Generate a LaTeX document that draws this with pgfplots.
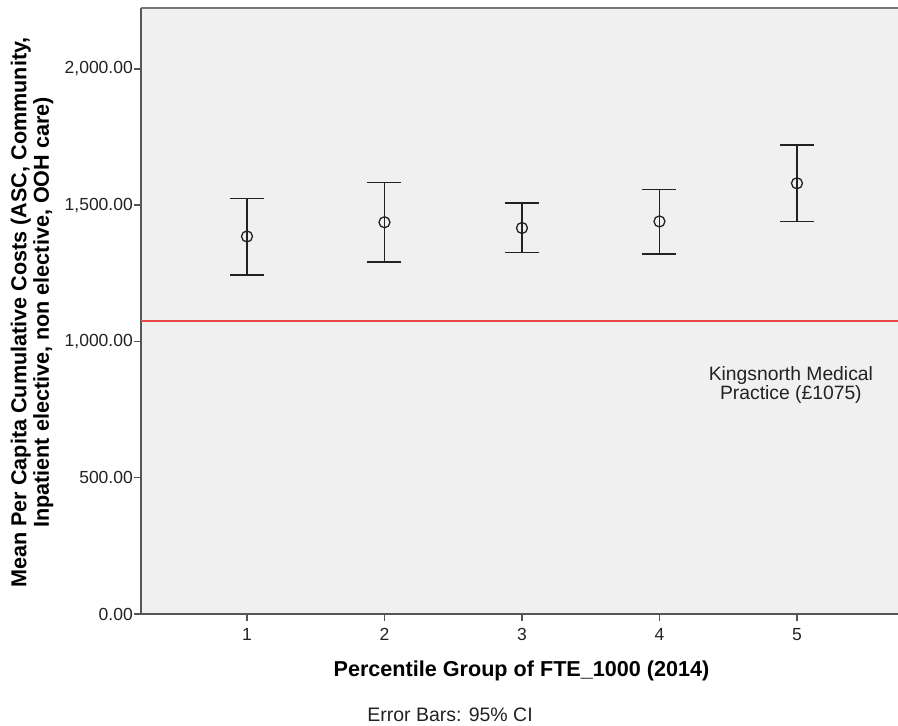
\documentclass[border=0pt]{standalone}
\usepackage{fontspec}
\setmainfont{Liberation Sans}
\usepackage{pgfplots}
\pgfplotsset{compat=1.18}
\definecolor{bg}{HTML}{F0F0F0}
\definecolor{axgray}{HTML}{555555}
\definecolor{refred}{HTML}{E8474C}
\definecolor{txt}{HTML}{222222}
\begin{document}
\begin{tikzpicture}
\path[use as bounding box] (-141pt,-112pt) rectangle (757pt,614pt);
\begin{axis}[
  at={(0pt,0pt)}, anchor=south west, scale only axis,
  width=757pt, height=606pt,
  xmin=0.229, xmax=5.735, ymin=0, ymax=2223,
  axis x line*=bottom, axis y line*=left,
  axis line style={axgray, line width=1.8pt},
  axis background/.style={fill=bg},
  xtick={1,2,3,4,5}, ytick={0,500,1000,1500,2000},
  tick align=outside, major tick length=7pt,
  tick style={axgray, line width=1.5pt},
  /pgf/number format/assume math mode=true,
  ticklabel style={font=\fontsize{17.5}{19}\selectfont, text=txt},
  yticklabel style={inner sep=1pt, /pgf/number format/.cd, fixed, fixed zerofill, precision=2, 1000 sep={,}},
  xticklabel style={yshift=-4pt},
  clip=false,
]
\addplot[refred, line width=1.6pt] coordinates {(0.229,1075) (5.735,1075)};
\addplot[only marks, mark=o, mark size=5.5pt, txt,
  mark options={line width=1.3pt, fill=bg},
  error bars/.cd, y dir=both, y explicit,
  error bar style={line width=1.5pt, txt},
  error mark options={rotate=90, mark size=17pt, line width=1.5pt, txt}]
  table[x=x, y=y, y error plus=ep, y error minus=em] {
x y ep em
1 1385 139 141
2 1437 145 146
3 1416 92 89
4 1440 117 119
5 1580 141 140
};
\draw[axgray!80, line width=1.8pt] (rel axis cs:0,1) -- (rel axis cs:1,1);
\node[align=center, text=txt, font=\fontsize{19.3}{19.5}\selectfont] at (axis cs:4.956,840) {Kingsnorth Medical\\Practice (£1075)};
\end{axis}
\node[font=\bfseries\fontsize{21.6}{22.5}\selectfont, text=black] at (380.5pt,-57pt) {Percentile Group of FTE\_1000 (2014)};
\node[font=\fontsize{19.5}{20}\selectfont, text=txt] at (309pt,-101pt) {Error Bars: 95\% CI};
\node[rotate=90, align=center, font=\bfseries\fontsize{21.6}{22.5}\selectfont, text=black] at (-109pt,301.5pt) {Mean Per Capita Cumulative Costs (ASC, Community,\\Inpatient elective, non elective, OOH care)};
\end{tikzpicture}
\end{document}
